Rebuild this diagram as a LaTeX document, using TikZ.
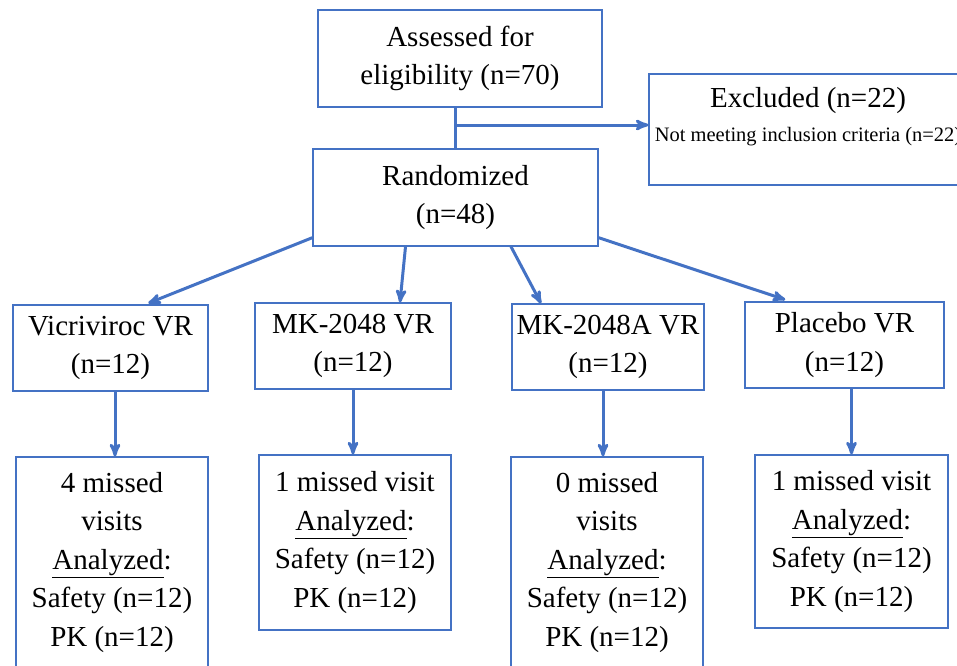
\documentclass[tikz,border=0pt]{standalone}
\usepackage{fontspec}
\setmainfont{Liberation Serif}
\usetikzlibrary{arrows,shapes}
\definecolor{flowblue}{HTML}{4472C4}
\newcommand{\bigtxt}{\fontsize{29}{38.5}\selectfont}
\newcommand{\smalltxt}{\fontsize{20.5}{24}\selectfont}
\tikzstyle{box}=[rectangle,draw=flowblue,line width=1.4pt,align=center,
  			  inner sep=2pt,font=\bigtxt]
\tikzstyle{arrow}=[->,line width=3pt,draw=flowblue]
\tikzstyle{line}=[line width=3pt,draw=flowblue]

\begin{document}
\begin{tikzpicture}[x=1pt,y=-1pt,>=stealth']

	\useasboundingbox (0,0) rectangle (957,665);

	\node[box,minimum width=284pt,minimum height=97pt] (assess) at (460,58.5)
		{Assessed for\\eligibility (n=70)};
	\node[box,minimum width=318pt,minimum height=111pt,
		label={[font=\bigtxt,align=center,anchor=north,yshift=-11pt]north:Excluded (n=22)\\[-5pt]{\smalltxt Not meeting inclusion criteria (n=22)}}]
		(excl) at (808,129.5) {};
	\node[box,minimum width=285pt,minimum height=97pt] (rand) at (455.5,197.5)
		{Randomized\\(n=48)};

	\node[box,minimum width=195pt,minimum height=86pt] (vic) at (110.5,348)
		{Vicriviroc VR\\(n=12)};
	\node[box,minimum width=196pt,minimum height=86pt] (mk) at (353,346)
		{MK-2048 VR\\(n=12)};
	\node[box,minimum width=192pt,minimum height=86pt] (mka) at (608,347)
		{MK-2048A VR\\(n=12)};
	\node[box,minimum width=199pt,minimum height=86pt] (plac) at (844.5,345)
		{Placebo VR\\(n=12)};

	\node[box,minimum width=192pt,minimum height=211pt] (out1) at (112,562.5)
		{4 missed\\visits\\\underline{Analyzed}:\\Safety (n=12)\\PK (n=12)};
	\node[box,minimum width=192pt,minimum height=175pt] (out2) at (355,542.5)
		{1 missed visit\\\underline{Analyzed}:\\Safety (n=12)\\PK (n=12)};
	\node[box,minimum width=192pt,minimum height=211pt] (out3) at (607,562.5)
		{0 missed\\visits\\\underline{Analyzed}:\\Safety (n=12)\\PK (n=12)};
	\node[box,minimum width=193pt,minimum height=173pt] (out4) at (851.5,541.5)
		{1 missed visit\\\underline{Analyzed}:\\Safety (n=12)\\PK (n=12)};

	\coordinate (split) at (rand.north |- 0,125);
	\draw[line] (rand.north) -- (rand.north |- assess.south);
	\draw[arrow] (split) -- (split -| excl.west);

	\draw[arrow,shorten >=3pt] ([yshift=9pt]rand.south west) -- ([xshift=35pt]vic.north);
	\draw[arrow] ([xshift=-50pt]rand.south) -- ([xshift=47pt]mk.north);
	\draw[arrow] ([xshift=55.5pt]rand.south) -- ([xshift=-67pt]mka.north);
	\draw[arrow,shorten >=5pt] ([yshift=9pt]rand.south east) -- ([xshift=-54.5pt]plac.north);

	\draw[arrow] ([xshift=3pt]out1.north |- vic.south) -- ([xshift=3pt]out1.north);
	\draw[arrow] ([xshift=-2pt]out2.north |- mk.south) -- ([xshift=-2pt]out2.north);
	\draw[arrow] ([xshift=-4pt]out3.north |- mka.south) -- ([xshift=-4pt]out3.north);
	\draw[arrow] (out4.north |- plac.south) -- (out4.north);
\end{tikzpicture}
\end{document}
